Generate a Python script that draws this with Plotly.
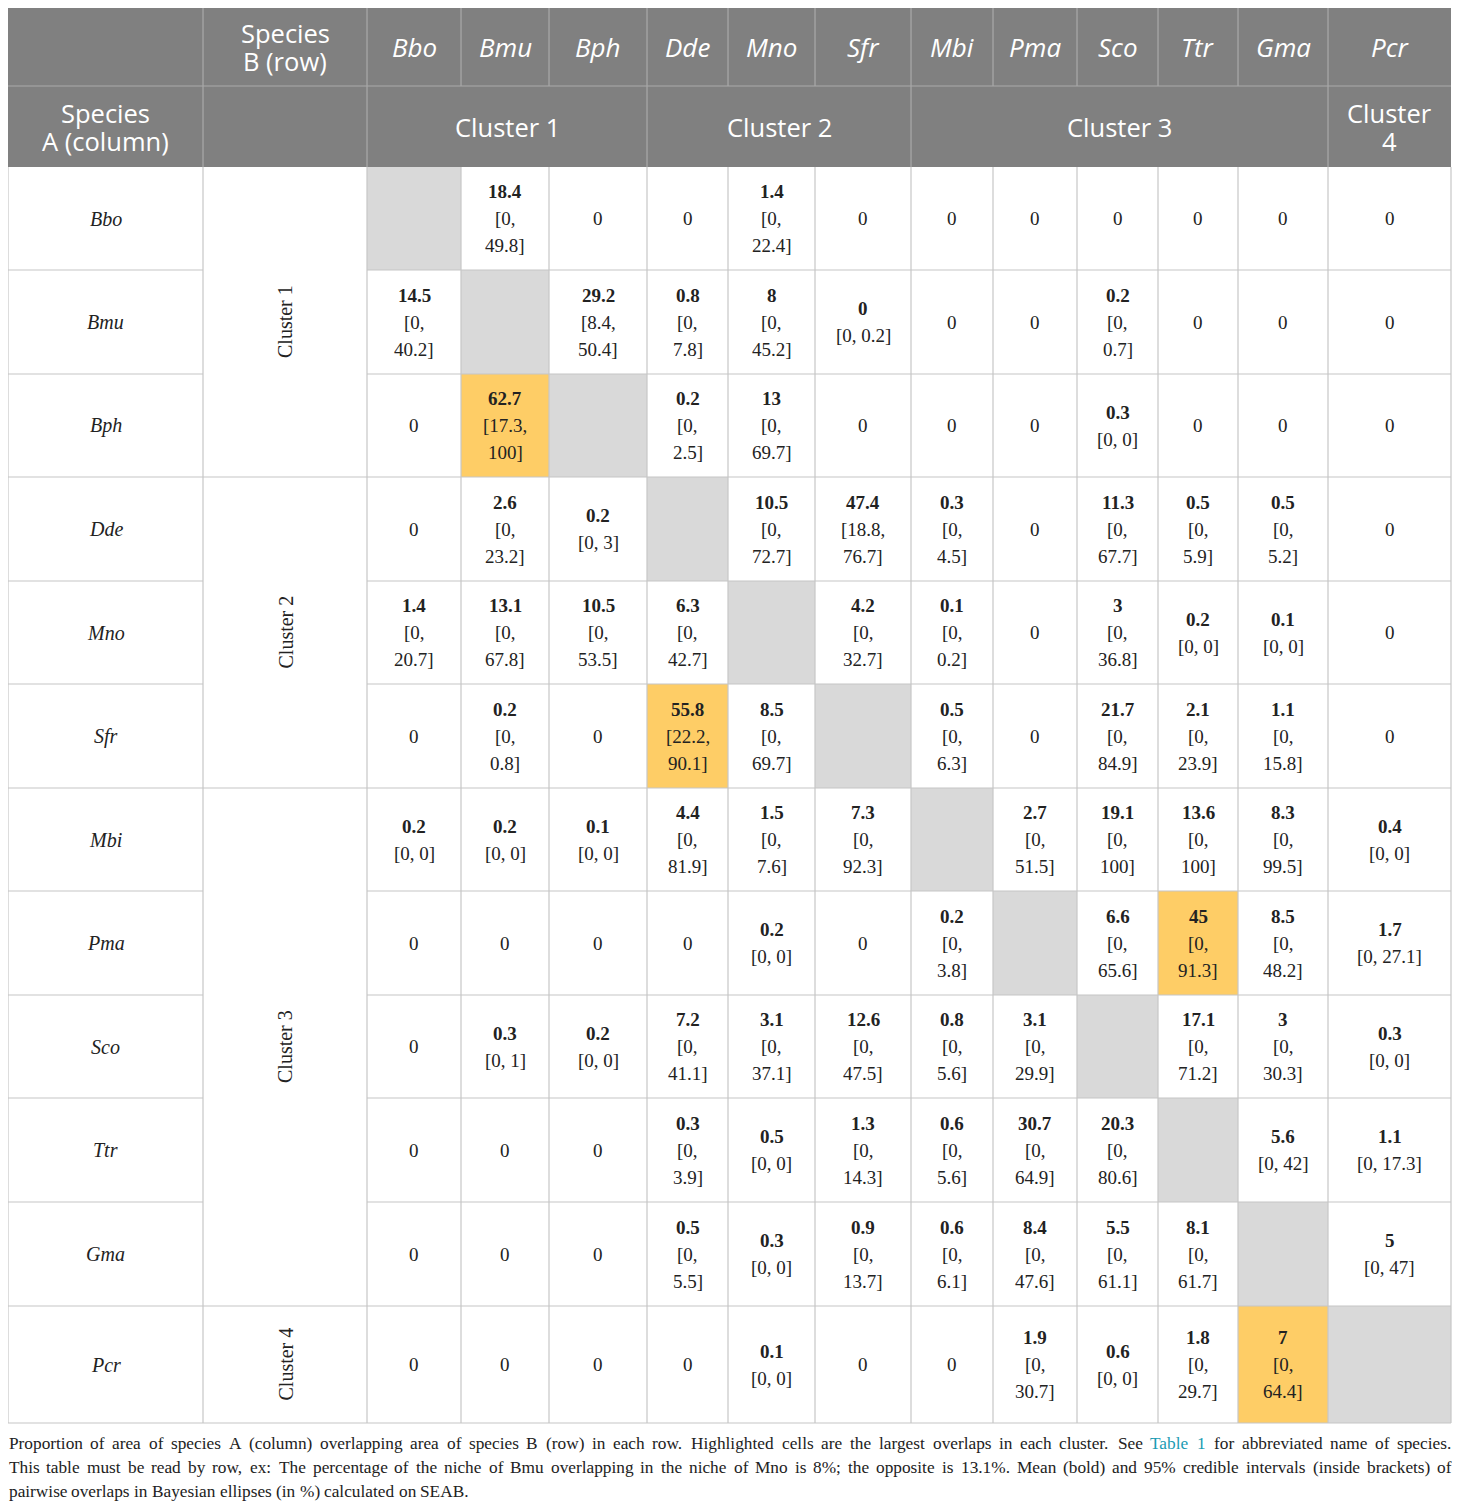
import plotly.graph_objects as go

# species in table order, and the cluster each one belongs to
species = ["Bbo", "Bmu", "Bph", "Dde", "Mno", "Sfr",
           "Mbi", "Pma", "Sco", "Ttr", "Gma", "Pcr"]
clusters = ["Cluster 1", "Cluster 2", "Cluster 3", "Cluster 4"]
cluster_size = [3, 3, 5, 1]

# mean overlap (%), None on the diagonal
mean = [
    [None, 18.4, 0, 0, 1.4, 0, 0, 0, 0, 0, 0, 0],
    [14.5, None, 29.2, 0.8, 8, 0, 0, 0, 0.2, 0, 0, 0],
    [0, 62.7, None, 0.2, 13, 0, 0, 0, 0.3, 0, 0, 0],
    [0, 2.6, 0.2, None, 10.5, 47.4, 0.3, 0, 11.3, 0.5, 0.5, 0],
    [1.4, 13.1, 10.5, 6.3, None, 4.2, 0.1, 0, 3, 0.2, 0.1, 0],
    [0, 0.2, 0, 55.8, 8.5, None, 0.5, 0, 21.7, 2.1, 1.1, 0],
    [0.2, 0.2, 0.1, 4.4, 1.5, 7.3, None, 2.7, 19.1, 13.6, 8.3, 0.4],
    [0, 0, 0, 0, 0.2, 0, 0.2, None, 6.6, 45, 8.5, 1.7],
    [0, 0.3, 0.2, 7.2, 3.1, 12.6, 0.8, 3.1, None, 17.1, 3, 0.3],
    [0, 0, 0, 0.3, 0.5, 1.3, 0.6, 30.7, 20.3, None, 5.6, 1.1],
    [0, 0, 0, 0.5, 0.3, 0.9, 0.6, 8.4, 5.5, 8.1, None, 5],
    [0, 0, 0, 0, 0.1, 0, 0, 1.9, 0.6, 1.8, 7, None],
]

# 95% credible interval bounds, None where no interval is given
ci_lo = [
    [None, 0, None, None, 0, None, None, None, None, None, None, None],
    [0, None, 8.4, 0, 0, 0, None, None, 0, None, None, None],
    [None, 17.3, None, 0, 0, None, None, None, 0, None, None, None],
    [None, 0, 0, None, 0, 18.8, 0, None, 0, 0, 0, None],
    [0, 0, 0, 0, None, 0, 0, None, 0, 0, 0, None],
    [None, 0, None, 22.2, 0, None, 0, None, 0, 0, 0, None],
    [0, 0, 0, 0, 0, 0, None, 0, 0, 0, 0, 0],
    [None, None, None, None, 0, None, 0, None, 0, 0, 0, 0],
    [None, 0, 0, 0, 0, 0, 0, 0, None, 0, 0, 0],
    [None, None, None, 0, 0, 0, 0, 0, 0, None, 0, 0],
    [None, None, None, 0, 0, 0, 0, 0, 0, 0, None, 0],
    [None, None, None, None, 0, None, None, 0, 0, 0, 0, None],
]
ci_hi = [
    [None, 49.8, None, None, 22.4, None, None, None, None, None, None, None],
    [40.2, None, 50.4, 7.8, 45.2, 0.2, None, None, 0.7, None, None, None],
    [None, 100, None, 2.5, 69.7, None, None, None, 0, None, None, None],
    [None, 23.2, 3, None, 72.7, 76.7, 4.5, None, 67.7, 5.9, 5.2, None],
    [20.7, 67.8, 53.5, 42.7, None, 32.7, 0.2, None, 36.8, 0, 0, None],
    [None, 0.8, None, 90.1, 69.7, None, 6.3, None, 84.9, 23.9, 15.8, None],
    [0, 0, 0, 81.9, 7.6, 92.3, None, 51.5, 100, 100, 99.5, 0],
    [None, None, None, None, 0, None, 3.8, None, 65.6, 91.3, 48.2, 27.1],
    [None, 1, 0, 41.1, 37.1, 47.5, 5.6, 29.9, None, 71.2, 30.3, 0],
    [None, None, None, 3.9, 0, 14.3, 5.6, 64.9, 80.6, None, 42, 17.3],
    [None, None, None, 5.5, 0, 13.7, 6.1, 47.6, 61.1, 61.7, None, 47],
    [None, None, None, None, 0, None, None, 30.7, 0, 29.7, 64.4, None],
]

# largest overlap in each cluster (row, column)
highlight = [(2, 1), (5, 3), (7, 9), (11, 10)]

caption = [
    "Proportion of area of species A (column) overlapping area of species B (row) in each row. "
    "Highlighted cells are the largest overlaps in each cluster. See Table 1 "
    "for abbreviated name of species.",
    "This table must be read by row, ex: The percentage of the niche of Bmu overlapping in the niche of "
    "Mno is 8%; the opposite is 13.1%. Mean (bold) and 95% credible intervals (inside brackets) of",
    "pairwise overlaps in Bayesian ellipses (in %) calculated on SEAB.",
]
link_words = {"Table", "1"}

# ---- geometry (page pixels; the page body has an 8px margin) ----
W, H = 1460, 1510
PAGE = 8
X0, Y0 = 8, 8
col_w = [195, 164, 94, 88, 98, 81, 87, 96, 82, 84, 81, 80, 90, 123]
head_h = [78, 81]
row_h = [103, 104, 103, 104, 103, 104, 103, 104, 103, 104, 104, 117]
LINE_H = 27
HEAD_LINE_H = 28

xe = [X0]
for w in col_w:
    xe.append(xe[-1] + w)
ye = [Y0]
for h in head_h + row_h:
    ye.append(ye[-1] + h)
x_end, y_end = xe[-1], ye[-1]
body_top = ye[2]

HEAD_BG = "#808080"
HEAD_LINE = "#a9a9a9"
GRID = "#c6c6c6"
DIAG = "#d9d9d9"
HIGH = "#fecd66"
TXT = "#222222"
LINK = "#1a9bb3"
SANS = "Open Sans"
SERIF = "Liberation Serif"

fig = go.Figure()
shapes = []
ann = []


def rect(x0, x1, y0, y1, color):
    shapes.append(dict(type="rect", xref="x", yref="y", x0=x0, x1=x1, y0=y0, y1=y1,
                       fillcolor=color, line=dict(width=0), layer="below"))


def line(x0, y0, x1, y1, color, w=1.2):
    shapes.append(dict(type="line", xref="x", yref="y", x0=x0, y0=y0, x1=x1, y1=y1,
                       line=dict(color=color, width=w)))


def text(x, y, s, size, color, family, angle=0, xanchor="center"):
    ann.append(dict(x=x, y=y, xref="x", yref="y", text=s, showarrow=False,
                    xanchor=xanchor, yanchor="middle", textangle=angle,
                    font=dict(size=size, color=color, family=family)))


def lines_in(xc, yc, parts, size, color, family, step=LINE_H):
    n = len(parts)
    for i, p in enumerate(parts):
        text(xc, yc + (i - (n - 1) / 2) * step, p, size, color, family)


# header background
rect(X0, x_end, Y0, body_top, HEAD_BG)

# cluster spans across the data columns
spans = []
c = 0
for k in cluster_size:
    spans.append((c, c + k))
    c += k

# body cell fills
for r in range(len(species)):
    for j in range(len(species)):
        if mean[r][j] is None:
            rect(xe[j + 2], xe[j + 3], ye[r + 2], ye[r + 3], DIAG)
for r, j in highlight:
    rect(xe[j + 2], xe[j + 3], ye[r + 2], ye[r + 3], HIGH)

# header grid
line(X0, ye[1], x_end, ye[1], HEAD_LINE)
for i in range(1, len(xe) - 1):
    line(xe[i], Y0, xe[i], ye[1], HEAD_LINE)
row2_cuts = [xe[1], xe[2]] + [xe[s[1] + 2] for s in spans[:-1]]
for xv in row2_cuts:
    line(xv, ye[1], xv, body_top, HEAD_LINE)

# body grid
for i in range(len(xe)):
    line(xe[i], body_top, xe[i], y_end, GRID)
group_ends = [s[1] for s in spans]
for r in range(1, len(species) + 1):
    yv = ye[r + 2]
    if r in group_ends:
        line(X0, yv, x_end, yv, GRID)
    else:
        line(X0, yv, xe[1], yv, GRID)
        line(xe[2], yv, x_end, yv, GRID)

# header texts
hc1 = (ye[0] + ye[1]) / 2
hc2 = (ye[1] + ye[2]) / 2
lines_in((xe[1] + xe[2]) / 2, hc1, ["Species", "B (row)"], 25.5, "white", SANS, HEAD_LINE_H)
lines_in((xe[0] + xe[1]) / 2, hc2, ["Species", "A (column)"], 25.5, "white", SANS, HEAD_LINE_H)
for j, sp in enumerate(species):
    text((xe[j + 2] + xe[j + 3]) / 2, hc1, "<i>" + sp + "</i>", 26, "white", SANS)
for name, (a, b) in zip(clusters, spans):
    xc = (xe[a + 2] + xe[b + 2]) / 2
    parts = [name] if b - a > 1 else name.split(" ")
    lines_in(xc, hc2, parts, 25.5, "white", SANS, HEAD_LINE_H)

# row labels and cluster labels
for r, sp in enumerate(species):
    text((xe[0] + xe[1]) / 2, (ye[r + 2] + ye[r + 3]) / 2, "<i>" + sp + "</i>", 20, TXT, SERIF)
for name, (a, b) in zip(clusters, spans):
    text((xe[1] + xe[2]) / 2, (ye[a + 2] + ye[b + 2]) / 2, name, 20, TXT, SERIF, angle=-90)


def fmt(v):
    return f"{v:g}"


# cell values
for r in range(len(species)):
    for j in range(len(species)):
        m = mean[r][j]
        if m is None:
            continue
        xc = (xe[j + 2] + xe[j + 3]) / 2
        yc = (ye[r + 2] + ye[r + 3]) / 2
        if ci_hi[r][j] is None:
            lines_in(xc, yc, [fmt(m)], 19, TXT, SERIF)
            continue
        lo, hi = fmt(ci_lo[r][j]), fmt(ci_hi[r][j])
        one = f"[{lo}, {hi}]"
        if len(one) * 10 + 14 <= col_w[j + 2]:
            parts = [one]
        else:
            parts = [f"[{lo},", f"{hi}]"]
        lines_in(xc, yc, ["<b>" + fmt(m) + "</b>"] + parts, 19, TXT, SERIF)

# caption: justified like the journal layout (Times-metric advance widths)
CAP_SIZE = 17.3
adv = dict(zip("abcdefghijklmnopqrstuvwxyz",
               [444, 500, 444, 500, 444, 333, 500, 500, 278, 278, 500, 278, 778,
                500, 500, 500, 500, 333, 389, 278, 500, 500, 722, 500, 500, 444]))
adv.update(dict(zip("ABCDEFGHIJKLMNOPQRSTUVWXYZ",
                    [722, 667, 667, 722, 611, 556, 722, 722, 333, 389, 722, 611, 889,
                     722, 722, 556, 722, 667, 556, 611, 722, 722, 944, 722, 722, 611])))
adv.update({" ": 250, ".": 250, ",": 250, ";": 278, ":": 278, "(": 333, ")": 333,
            "%": 833, "[": 333, "]": 333, "-": 333})


def word_w(s):
    return sum(adv.get(ch, 500) for ch in s) / 1000 * CAP_SIZE


for i, s in enumerate(caption):
    yv = y_end + 20 + i * 24
    words = s.split(" ")
    if i == len(caption) - 1:
        gap = adv[" "] / 1000 * CAP_SIZE
    else:
        gap = (x_end - X0 - sum(word_w(wd) for wd in words)) / (len(words) - 1)
    xv = X0
    for wd in words:
        col = LINK if (i == 0 and wd in link_words) else TXT
        ann.append(dict(x=xv + 0.5, y=yv, xref="x", yref="y", text=wd, showarrow=False,
                        xanchor="left", yanchor="middle", xshift=-2,
                        font=dict(size=CAP_SIZE, color=col, family=SERIF)))
        xv += word_w(wd) + gap

fig.update_layout(
    width=W, height=H,
    margin=dict(l=0, r=0, t=0, b=0),
    paper_bgcolor="white", plot_bgcolor="white",
    xaxis=dict(range=[PAGE, W + PAGE], visible=False, fixedrange=True),
    yaxis=dict(range=[H + PAGE, PAGE], visible=False, fixedrange=True),
    shapes=shapes, annotations=ann, showlegend=False,
)

fig.write_html("out.html")
